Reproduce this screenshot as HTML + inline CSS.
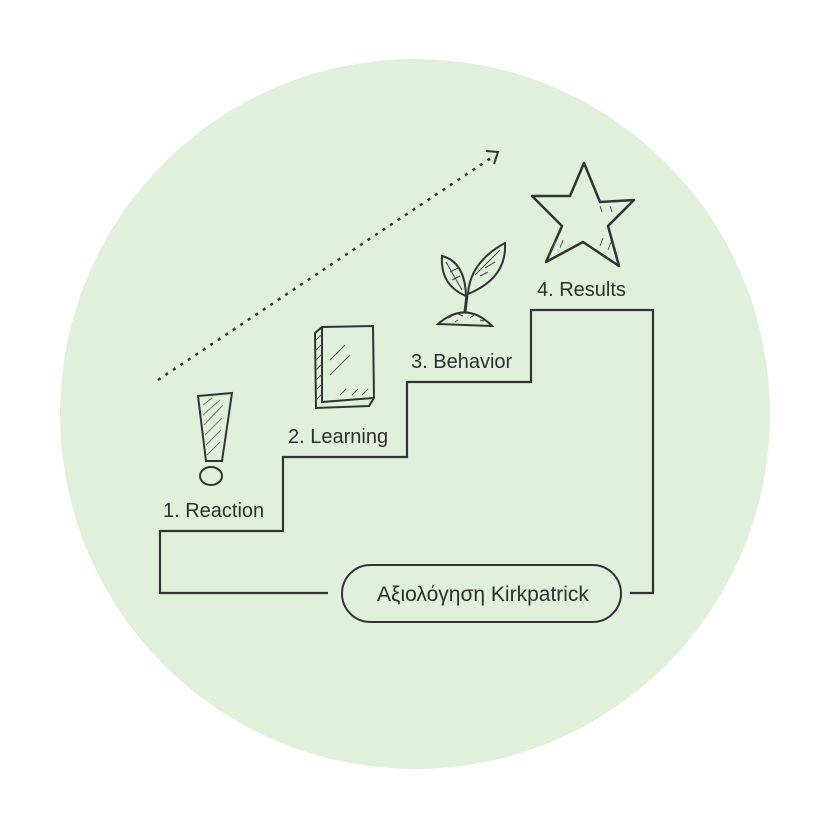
<!DOCTYPE html>
<html><head><meta charset="utf-8"><style>
html,body{margin:0;padding:0;background:#fff;width:830px;height:829px;overflow:hidden}
svg text{font-family:"Liberation Sans",sans-serif;fill:#2e2e2e}
</style></head><body>
<svg width="830" height="829" viewBox="0 0 830 829" xmlns="http://www.w3.org/2000/svg">
<circle cx="415" cy="414" r="355" fill="#e1f0da"/>
<line x1="158" y1="380" x2="494" y2="156" stroke="#333" stroke-width="2.5" stroke-dasharray="3,6"/>
<polyline points="486,151 498,152 494,164" fill="none" stroke="#333" stroke-width="2"/>
<polyline points="328,593 160,593 160,531 283,531 283,457 407,457 407,382 531,382 531,310 653,310 653,593 630,593" fill="none" stroke="#333" stroke-width="2.2"/>
<rect x="342" y="565" width="279" height="57" rx="28.5" fill="none" stroke="#333" stroke-width="2"/>
<text x="483" y="601" font-size="21" text-anchor="middle">Αξιολόγηση Kirkpatrick</text>
<text x="163" y="517" font-size="20">1. Reaction</text>
<text x="288" y="443" font-size="20">2. Learning</text>
<text x="411" y="368" font-size="20">3. Behavior</text>
<text x="537" y="296" font-size="20">4. Results</text>
<!-- exclamation -->
<path d="M198,396 L232,393 L222,461 L206,461 Z" fill="#e1f0da" stroke="#333" stroke-width="2"/>
<path d="M203,405 L212,398 M203,415 L220,400 M204,425 L223,405 M205,435 L222,418 M206,445 L221,430 M207,455 L220,442" stroke="#777" stroke-width="1"/>
<ellipse cx="211" cy="476" rx="11" ry="9" fill="#e1f0da" stroke="#333" stroke-width="2"/>
<!-- book -->
<path d="M315,333 L322,327 L373,326 L374,398 L369,406 L316,408 Z" fill="#e1f0da" stroke="#333" stroke-width="2"/>
<path d="M322,327 L322,402 L373,398" fill="none" stroke="#333" stroke-width="2"/>
<path d="M316,340 L321,335 M316,350 L321,345 M316,360 L321,355 M316,370 L321,365 M316,380 L321,375 M316,390 L321,385 M316,400 L321,395 M330,360 L345,345 M330,375 L350,355 M340,395 L346,389 M352,395 L358,389 M362,395 L368,389" stroke="#555" stroke-width="1"/>
<!-- sprout -->
<path d="M438,324 Q466,300 492,326 Z" fill="#e1f0da" stroke="#333" stroke-width="2"/>
<path d="M448,318 l4,-2 M458,314 l5,2 M470,318 l4,-3 M480,320 l4,1 M455,322 l3,-2" stroke="#444" stroke-width="1"/>
<path d="M465,312 L467,295" stroke="#333" stroke-width="3"/>
<path d="M466,296 Q440,285 442,256 Q465,262 466,296 Z" fill="#e1f0da" stroke="#333" stroke-width="2"/>
<path d="M468,294 Q470,262 505,243 Q507,278 468,294 Z" fill="#e1f0da" stroke="#333" stroke-width="2"/>
<path d="M446,262 L462,290 M450,272 L458,268 M452,280 L460,276 M475,275 L500,250 M480,276 L488,272 M485,268 L495,262" stroke="#444" stroke-width="1"/>
<!-- star -->
<path d="M584,163 L600,202 L634,200 L608,226 L619,266 L583,242 L546,262 L562,226 L532,196 L570,196 Z" fill="#e1f0da" stroke="#333" stroke-width="2.5" stroke-linejoin="round"/>
<path d="M552,250 l3,-8 M560,248 l3,-8 M600,246 l3,-8 M608,250 l3,-8 M600,206 l2,6 M610,206 l2,6" stroke="#555" stroke-width="1"/>
</svg>
</body></html>
